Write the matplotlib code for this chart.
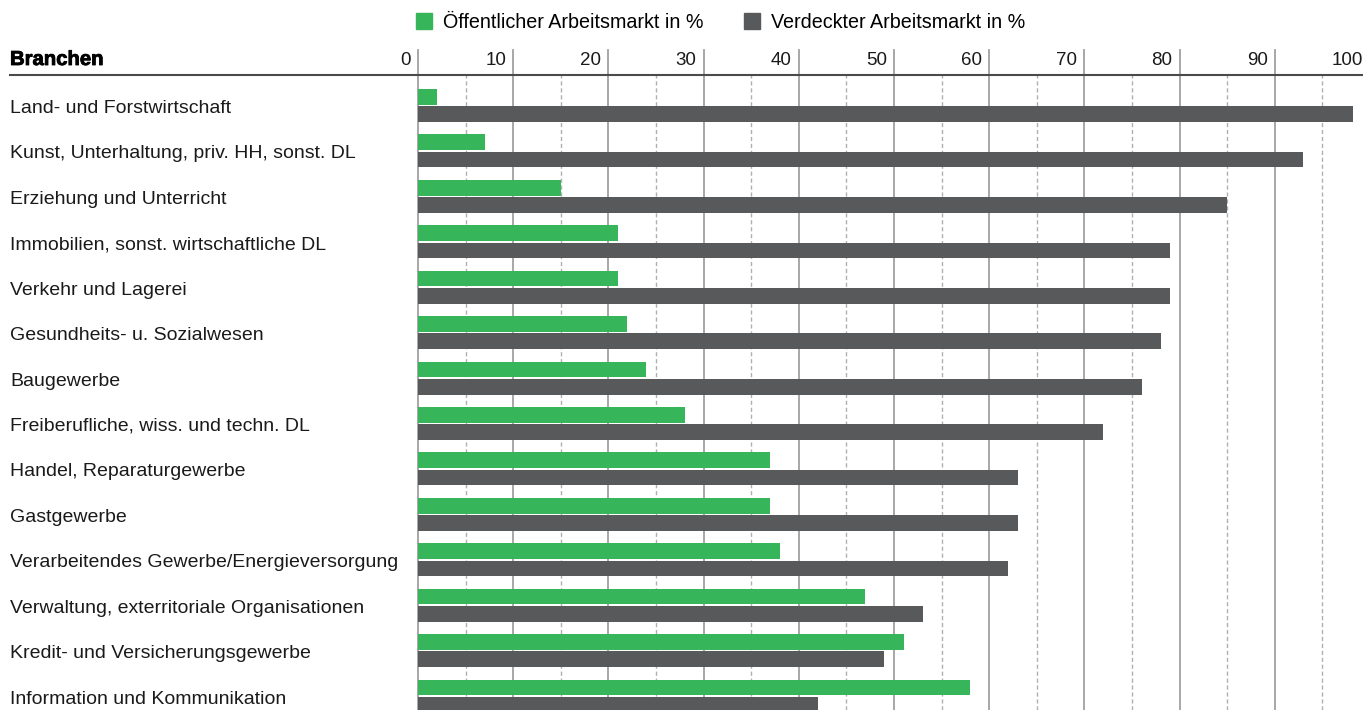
import matplotlib
matplotlib.use("Agg")
import matplotlib.pyplot as plt
import matplotlib.transforms as mtransforms
import matplotlib.patheffects as pe
from matplotlib.patches import Patch

plt.rcParams["font.family"] = ["Liberation Sans", "DejaVu Sans"]

# Data (Anteile in %)
branchen = [
    "Land- und Forstwirtschaft",
    "Kunst, Unterhaltung, priv. HH, sonst. DL",
    "Erziehung und Unterricht",
    "Immobilien, sonst. wirtschaftliche DL",
    "Verkehr und Lagerei",
    "Gesundheits- u. Sozialwesen",
    "Baugewerbe",
    "Freiberufliche, wiss. und techn. DL",
    "Handel, Reparaturgewerbe",
    "Gastgewerbe",
    "Verarbeitendes Gewerbe/Energieversorgung",
    "Verwaltung, exterritoriale Organisationen",
    "Kredit- und Versicherungsgewerbe",
    "Information und Kommunikation",
]
oeffentlich = [2, 7, 15, 21, 21, 22, 24, 28, 37, 37, 38, 47, 51, 58]
verdeckt = [98.2, 93, 85, 79, 79, 78, 76, 72, 63, 63, 62, 53, 49, 42]
xticks = list(range(0, 101, 10))
xminor = list(range(5, 100, 10))

GREEN = "#36b55a"
GREY = "#58595b"
TXT = "#1a1a1a"

W, H = 1363, 710
fig = plt.figure(figsize=(W / 100, H / 100), dpi=100)
ax = fig.add_axes([418 / W, 0, (1370 - 418) / W, 635 / H])

n = len(branchen)
ypos = list(range(n))
bh = 0.345
off = 0.19

# Gitterlinien: gestrichelt bei 5er-Schritten, durchgezogen bei 10ern
for v in xminor:
    ax.axvline(v, color="#b0b0b0", lw=1.0, ls=(0, (3, 2)), zorder=1)
for v in xticks:
    ax.axvline(v, ymin=0, ymax=1 + 25 / 635, color="#a0a0a0", lw=1.3,
               zorder=1, clip_on=False)

ax.barh([y - off for y in ypos], oeffentlich, height=bh, color=GREEN,
        zorder=3, label="Öffentlicher Arbeitsmarkt in %")
ax.barh([y + off for y in ypos], verdeckt, height=bh, color=GREY,
        zorder=3, label="Verdeckter Arbeitsmarkt in %")

ax.set_xlim(0, 100)
ax.set_ylim(n - 1 + 0.308, -0.672)
ax.axis("off")

# Skalenbeschriftung oberhalb der Linie
for v in xticks:
    ax.annotate(str(v), xy=(v, 1), xycoords=("data", "axes fraction"),
                xytext=(-7, 10), textcoords="offset pixels",
                ha="right", va="baseline", fontsize=13.5, color=TXT)

# obere Linie + Spaltenkopf
fig.add_artist(plt.Line2D([10 / W, 1], [635 / H, 635 / H], color="#4a4a4a",
                          lw=1.5, transform=fig.transFigure))
fig.text(10 / W, 1 - 65 / H, "Branchen", fontsize=14.6, fontweight="bold",
         ha="left", va="baseline", color="black",
         path_effects=[pe.withStroke(linewidth=0.6, foreground="black")])

# Branchen-Beschriftung
trans = mtransforms.blended_transform_factory(fig.transFigure, ax.transData)
for y, name in zip(ypos, branchen):
    ax.text(10 / W, y + 0.165, name, transform=trans, ha="left",
            va="baseline", fontsize=14.0, color=TXT)

handles = [Patch(color=GREEN, label="Öffentlicher Arbeitsmarkt in %"),
           Patch(color=GREY, label="Verdeckter Arbeitsmarkt in %")]
fig.legend(handles=handles, loc="upper left",
           bbox_to_anchor=(416 / W, 1 - 13 / H), ncol=2, frameon=False,
           fontsize=14.2, borderpad=0, handlelength=0.82, handleheight=0.82,
           handletextpad=0.55, columnspacing=2.05, borderaxespad=0)

fig.savefig("out.png", dpi=100)
